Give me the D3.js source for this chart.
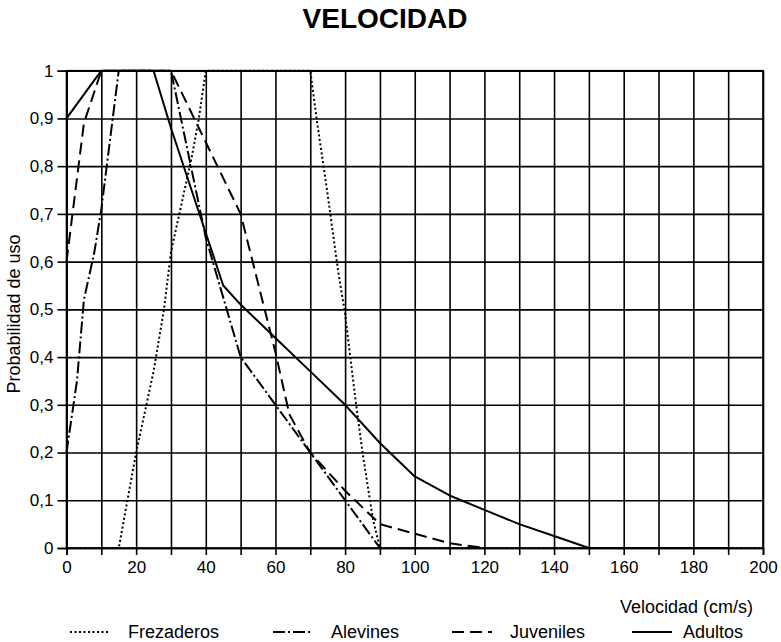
<!DOCTYPE html>
<html lang="es">
  <head>
    <meta charset="utf-8" />
    <title>Velocidad</title>
    <script src="https://d3js.org/d3.v7.min.js"></script>
    <style>
      body {
        margin: 0;
        background: #fff;
        font-family: "Liberation Sans", Arial, sans-serif;
      }
      .grid line {
        stroke: #000;
        stroke-width: 1.6px;
      }
      .grid path {
        display: none;
      }
      .axis text {
        font-family: "Liberation Sans", Arial, sans-serif;
        font-size: 17px;
        fill: #000;
      }
      .axis line,
      .axis path {
        stroke: #000;
        stroke-width: 1.6px;
      }
      path.serie {
        fill: none;
        stroke: #000;
        stroke-linejoin: round;
      }
    </style>
  </head>
  <body>
    <svg id="chart" width="781" height="642"></svg>

    <script>
      // ----- datos -----
      const frezaderos = [
        [0, 0], [15, 0], [20, 0.2], [25, 0.37], [28, 0.5], [30, 0.62],
        [33, 0.72], [36, 0.82], [38, 0.9], [40, 1], [70, 1], [72, 0.89],
        [75, 0.74], [78, 0.58], [80, 0.49], [83, 0.31], [85, 0.2],
        [88, 0.06], [90, 0], [200, 0]
      ];
      const alevines = [
        [0, 0.2], [3, 0.35], [5, 0.52], [8, 0.62], [10, 0.71], [15, 1],
        [30, 1], [40, 0.65], [50, 0.4], [60, 0.3], [70, 0.2], [80, 0.1],
        [90, 0]
      ];
      const juveniles = [
        [0, 0.6], [5, 0.89], [10, 1], [30, 1], [40, 0.85], [50, 0.7],
        [60, 0.41], [64, 0.28], [70, 0.2], [80, 0.12], [90, 0.05],
        [100, 0.03], [110, 0.01], [120, 0]
      ];
      const adultos = [
        [0, 0.9], [10, 1], [25, 1], [30, 0.88], [40, 0.66], [45, 0.55],
        [50, 0.51], [60, 0.44], [70, 0.37], [80, 0.3], [90, 0.22],
        [100, 0.15], [110, 0.11], [120, 0.08], [130, 0.05], [140, 0.025],
        [150, 0], [190, 0]
      ];

      const seriesNames = ["Frezaderos", "Alevines", "Juveniles", "Adultos"];
      const xTickLabels = [0, 20, 40, 60, 80, 100, 120, 140, 160, 180, 200];
      const yTickLabels = [0, 0.1, 0.2, 0.3, 0.4, 0.5, 0.6, 0.7, 0.8, 0.9, 1];

      // estilos de trazo por serie
      const dashes = {
        Frezaderos: "2,2.5",
        Alevines: "12,3,2,3",
        Juveniles: "12,6",
        Adultos: null
      };
      const widths = { Frezaderos: 2, Alevines: 2, Juveniles: 2, Adultos: 2 };

      // ----- area de dibujo -----
      const svg = d3.select("#chart");
      const margin = { top: 70.7, left: 66.5, right: 18, bottom: 94 };
      const width = 781 - margin.left - margin.right;
      const height = 642 - margin.top - margin.bottom;

      const x = d3.scaleLinear().domain([0, 200]).range([0, width]);
      const y = d3.scaleLinear().domain([0, 1]).range([height, 0]);

      const g = svg
        .append("g")
        .attr("transform", `translate(${margin.left},${margin.top})`);

      // rejilla
      g.append("g")
        .attr("class", "grid")
        .call(d3.axisBottom(x).tickValues(d3.range(0, 201, 10)).tickSize(height).tickFormat(""));
      g.append("g")
        .attr("class", "grid")
        .call(d3.axisLeft(y).tickValues(yTickLabels).tickSize(-width).tickFormat(""));

      // ejes
      const fmt = (d) => (d === 0 || d === 1 ? String(d) : d3.format(".1f")(d).replace(".", ","));

      g.append("g")
        .attr("class", "axis")
        .attr("transform", `translate(0,${height})`)
        .call(
          d3.axisBottom(x)
            .tickValues(d3.range(0, 201, 10))
            .tickSize(7)
            .tickPadding(6)
            .tickFormat((d) => (xTickLabels.includes(d) ? d : ""))
        );

      g.append("g")
        .attr("class", "axis")
        .call(d3.axisLeft(y).tickValues(yTickLabels).tickSize(9).tickPadding(4).tickFormat(fmt));

      // borde superior y derecho
      g.append("rect")
        .attr("width", width)
        .attr("height", height)
        .attr("fill", "none")
        .attr("stroke", "#000")
        .attr("stroke-width", 1.6);

      // series
      const line = d3
        .line()
        .x((d) => x(d[0]))
        .y((d) => y(d[1]));

      const allSeries = [frezaderos, alevines, juveniles, adultos];

      g.selectAll("path.serie")
        .data(allSeries)
        .enter()
        .append("path")
        .attr("class", "serie")
        .attr("d", line)
        .attr("stroke-width", (d, i) => widths[seriesNames[i]])
        .attr("stroke-dasharray", (d, i) => dashes[seriesNames[i]]);

      // titulo
      svg.append("text")
        .attr("x", 385)
        .attr("y", 28)
        .attr("text-anchor", "middle")
        .style("font-size", "28px")
        .style("font-weight", "bold")
        .text("VELOCIDAD");

      // titulo eje y
      svg.append("text")
        .attr("transform", "translate(20,314) rotate(-90)")
        .attr("text-anchor", "middle")
        .style("font-size", "18px")
        .text("Probabilidad de uso");

      // titulo eje x
      svg.append("text")
        .attr("x", 753)
        .attr("y", 613)
        .attr("text-anchor", "end")
        .style("font-size", "18px")
        .text("Velocidad (cm/s)");

      // leyenda
      const legendX = [70, 273, 452, 632];
      const legend = svg
        .selectAll("g.legend")
        .data(seriesNames)
        .enter()
        .append("g")
        .attr("class", "legend")
        .attr("transform", (d, i) => `translate(${legendX[i]},632)`);

      legend.append("line")
        .attr("x1", 0)
        .attr("x2", 40)
        .attr("stroke", "#000")
        .attr("stroke-width", (d) => widths[d])
        .attr("stroke-dasharray", (d) => dashes[d]);

      legend.append("text")
        .attr("x", (d, i) => (i === 3 ? 51 : 58))
        .attr("y", 6)
        .style("font-size", "18px")
        .text((d) => d);
    </script>
  </body>
</html>
